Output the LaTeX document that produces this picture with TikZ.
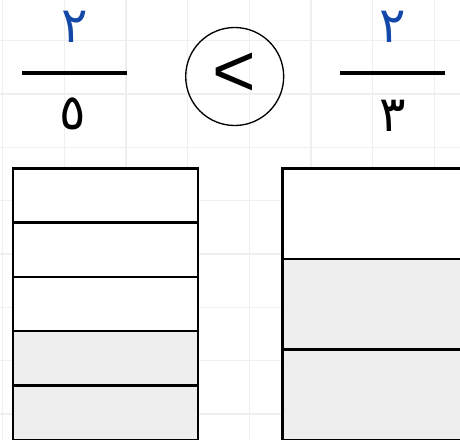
\documentclass[tikz,border=0pt]{standalone}
\usepackage{fontspec}
\setmainfont{DejaVu Sans}
\newfontfamily\arabicfont[Script=Arabic]{DejaVu Sans}
\newfontfamily\relfont{Liberation Sans}
\TeXXeTstate=1
\usetikzlibrary{positioning}
\definecolor{GridGray}{HTML}{EFEFEF}
\definecolor{ShadeGray}{HTML}{EEEEEE}
\definecolor{NumBlue}{HTML}{1448A8}
\tikzset{
  fracbar/.style={line width=3pt},
  digit/.style={anchor=base,inner sep=0pt,font=\fontsize{37}{40}\arabicfont},
  barcell/.style={draw=black,line width=1.9pt},
}

\begin{document}
\begin{tikzpicture}[x=0.75pt,y=-0.75pt]
  \useasboundingbox (0,0) rectangle (460,439);
  \clip (0,0) rectangle (460,439);
  % squared paper
  \foreach \i in {0,...,7} {
    \draw[GridGray,line width=1.1pt] ({2.7+61.67*\i},0) -- ++(0,439);
    \draw[GridGray,line width=1.1pt] (0,{40.7+53.33*\i}) -- ++(460,0);
  }
  % fractions
  \draw[fracbar] (22,72.7) -- (127,72.7);
  \node[digit,NumBlue] (numL) at (75,42) {\beginR ٢\endR};
  \node[digit] (denL) at (73,129) {\beginR ٥\endR};
  \draw[fracbar] (340,72.7) -- (445,72.7);
  \node[digit,NumBlue] (numR) at (393,42) {\beginR ٢\endR};
  \node[digit] (denR) at (393,131) {\beginR ٣\endR};
  \node[draw,circle,line width=1pt,minimum size=73.5pt,inner sep=0pt] (cmp) at (234.7,76.5) {};
  \node[inner sep=0pt,font=\fontsize{56}{60}\relfont] (lt) at (234.4,75) {<};
  % bars
  \foreach \r/\c in {0/white,1/white,2/white,3/ShadeGray,4/ShadeGray}
    \draw[barcell,fill=\c] (13,{168.3+54.3*\r}) rectangle ++(185,54.3);
  \foreach \r/\c in {0/white,1/ShadeGray,2/ShadeGray}
    \draw[barcell,fill=\c] (282.3,{168.3+90.5*\r}) rectangle ++(185,90.5);
\end{tikzpicture}
\end{document}
